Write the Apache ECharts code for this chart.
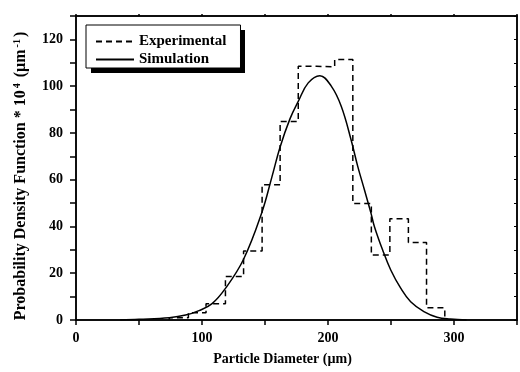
<!DOCTYPE html>
<html>
<head>
<meta charset="utf-8">
<script src="https://cdn.jsdelivr.net/npm/echarts@6/dist/echarts.min.js"></script>
<style>
  html, body { margin: 0; padding: 0; background: #fff; }
  #chart { width: 520px; height: 372px; }
</style>
</head>
<body>
<div id="chart"></div>
<script>
// bin edges of the measured histogram (µm)
var binEdges = [74.0, 89.2, 103.2, 118.6, 133.0, 147.7, 162.0, 176.4, 190.8, 205.3, 219.7, 234.4, 249.1, 263.8, 278.2, 292.7];
// bin heights (PDF * 10^4)
var binValues = [1.0, 3.1, 6.9, 18.6, 29.5, 57.8, 84.9, 108.5, 108.3, 111.4, 49.8, 27.8, 43.3, 33.1, 5.2];
// simulated curve
var simX = [35, 50, 74, 87, 97.6, 108, 118.6, 133, 147.5, 155.4, 162, 169.8, 176.4, 184.3, 193.5, 202.6, 210.5, 218.3, 223.6, 228.9, 234.1, 236.8, 243.3, 249.8, 257.7, 265.6, 276.1, 286.6, 297.1, 310];
var simY = [0, 0.3, 1.0, 2.1, 4.0, 7.0, 13.5, 26.0, 46.0, 61.0, 74.0, 86.0, 93.5, 101.4, 104.5, 100.0, 91.4, 77.1, 65.7, 55.7, 45.7, 40.0, 30.0, 21.4, 13.6, 7.8, 3.6, 1.2, 0.4, 0];

var FONT = 'Liberation Serif';

// histogram outline
var histData = [[binEdges[0], 0]];
binValues.forEach(function (v, i) {
  histData.push([binEdges[i], v]);
  histData.push([binEdges[i + 1], v]);
});
histData.push([binEdges[binEdges.length - 1], 0]);

var simData = simX.map(function (x, i) { return [x, simY[i]]; });

var myChart = echarts.init(document.getElementById('chart'));
var option = {
  animation: false,
  textStyle: { fontFamily: FONT, fontWeight: 'bold', color: '#000' },
  grid: { left: 76, right: 3, top: 16, bottom: 52, show: true, borderColor: '#000', borderWidth: 1.5, backgroundColor: 'transparent' },
  legend: {
    left: 86,
    top: 25,
    z: 5,
    orient: 'vertical',
    padding: [9, 14, 1, 9],
    itemGap: 3,
    itemWidth: 38,
    itemHeight: 14,
    backgroundColor: '#fff',
    borderColor: '#000',
    borderWidth: 1,
    borderRadius: 0,
    itemStyle: { opacity: 0 },
    textStyle: { fontFamily: FONT, fontWeight: 'bold', fontSize: 15, color: '#000' },
    data: ['Experimental', 'Simulation']
  },
  xAxis: [{
    type: 'value',
    min: 0,
    max: 350,
    interval: 50,
    name: 'Particle Diameter (µm)',
    nameLocation: 'middle',
    nameGap: 32,
    nameTextStyle: { fontFamily: FONT, fontWeight: 'bold', fontSize: 14, color: '#000', padding: [0, 28, 0, 0] },
    axisLine: { onZero: false, lineStyle: { color: '#000', width: 1.5 } },
    axisTick: { length: 5, lineStyle: { color: '#000', width: 1.5 } },
    axisLabel: {
      margin: 11,
      fontFamily: FONT, fontWeight: 'bold', fontSize: 14, color: '#000',
      formatter: function (v) { return (v % 100 === 0 && v < 350) ? v : ''; }
    },
    splitLine: { show: false }
  }, {
    type: 'value',
    position: 'top',
    min: 0,
    max: 350,
    interval: 50,
    axisLine: { show: true, onZero: false, lineStyle: { color: '#000', width: 1.5 } },
    axisTick: { show: true, inside: false, length: 2, lineStyle: { color: '#000', width: 1.5 } },
    axisLabel: { show: false },
    splitLine: { show: false }
  }],
  yAxis: [{
    type: 'value',
    min: 0,
    max: 130,
    interval: 10,
    axisLine: { show: true, onZero: false, lineStyle: { color: '#000', width: 1.5 } },
    axisTick: { show: true, length: 6, lineStyle: { color: '#000', width: 1.5 } },
    axisLabel: {
      margin: 13,
      fontFamily: FONT, fontWeight: 'bold', fontSize: 14, color: '#000',
      formatter: function (v) { return (v % 20 === 0 && v <= 120) ? v : ''; }
    },
    splitLine: { show: false }
  }, {
    type: 'value',
    position: 'right',
    min: 0,
    max: 130,
    interval: 10,
    axisLine: { show: true, onZero: false, lineStyle: { color: '#000', width: 1.5 } },
    axisTick: { show: true, inside: true, length: 3, lineStyle: { color: '#000', width: 1 } },
    axisLabel: { show: false },
    splitLine: { show: false }
  }],
  graphic: [{
    // drop shadow behind the legend box
    type: 'rect',
    z: 4,
    shape: { x: 91, y: 30, width: 154, height: 43 },
    style: { fill: '#000' }
  }, {
    type: 'text',
    x: 21,
    y: 176,
    rotation: Math.PI / 2,
    style: {
      text: 'Probability Density Function * 10{sup|4} (µm{sup|-1})',
      fontFamily: FONT,
      fontWeight: 'bold',
      fontSize: 16,
      fill: '#000',
      align: 'center',
      verticalAlign: 'middle',
      rich: {
        sup: { fontFamily: FONT, fontWeight: 'bold', fontSize: 10, fill: '#000', verticalAlign: 'top', padding: [0, 2, 7, 2] }
      }
    }
  }],
  series: [{
    name: 'Experimental',
    type: 'line',
    data: histData,
    symbol: 'none',
    color: '#000',
    lineStyle: { color: '#000', width: 1.5, type: [6, 4] }
  }, {
    name: 'Simulation',
    type: 'line',
    data: simData,
    smooth: 0.4,
    symbol: 'none',
    color: '#000',
    lineStyle: { color: '#000', width: 1.5 }
  }, {
    // empty series so the mirrored top/right axes get drawn
    name: 'frame',
    type: 'line',
    xAxisIndex: 1,
    yAxisIndex: 1,
    data: [],
    symbol: 'none',
    silent: true
  }]
};
myChart.setOption(option);
window.onresize = function () { myChart.resize(); };
</script>
</body>
</html>
